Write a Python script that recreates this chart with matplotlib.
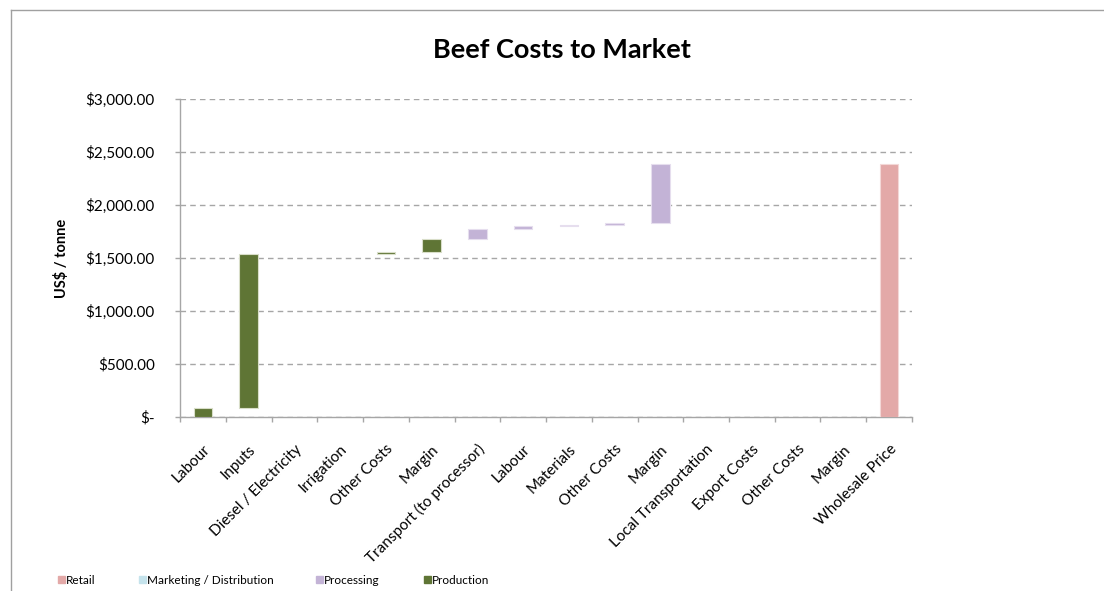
import matplotlib
matplotlib.use("Agg")
import matplotlib.pyplot as plt
from matplotlib.patches import Rectangle
from matplotlib.transforms import ScaledTranslation
import numpy as np

plt.rcParams['font.family'] = ['Lato', 'DejaVu Sans']

# Cost components along the chain (US$ / tonne); the last bar is the total
categories = ["Labour", "Inputs", "Diesel / Electricity", "Irrigation", "Other Costs",
              "Margin", "Transport (to processor)", "Labour", "Materials", "Other Costs",
              "Margin", "Local Transportation", "Export Costs", "Other Costs", "Margin",
              "Wholesale Price"]
step_values = [85, 1450, 0, 0, 22, 125, 90, 33, 9, 19, 557, 0, 0, 0, 0]
stages = ["Production"] * 6 + ["Processing"] * 5 + ["Marketing / Distribution"] * 4 + ["Retail"]

stage_colors = {
    "Retail": "#E3A9A8",
    "Marketing / Distribution": "#C5E3EC",
    "Processing": "#C3B3D6",
    "Production": "#5F7535",
}
legend_order = ["Retail", "Marketing / Distribution", "Processing", "Production"]
edge_colors = {
    "Retail": "#F3D8D7",
    "Marketing / Distribution": "#E6F3F7",
    "Processing": "#E6DEEE",
    "Production": "#D9DEC9",
}

cum = np.cumsum(step_values)
bottoms = list(np.concatenate([[0], cum[:-1]])) + [0]
heights = list(step_values) + [cum[-1]]

fig = plt.figure(figsize=(11.04, 5.91), dpi=100)
ax = fig.add_axes([180 / 1104, 1 - 417 / 591, (912 - 180) / 1104, (417 - 99) / 591])

x = np.arange(len(categories))
for xi, b, h, s in zip(x, bottoms, heights, stages):
    if h <= 0:
        continue
    ax.bar(xi, h, bottom=b, width=0.4, color=stage_colors[s],
           edgecolor=edge_colors[s], linewidth=0.8, zorder=3)

ax.set_xlim(-0.5, len(categories) - 0.5)
ax.set_ylim(0, 3000)

# y axis
yticks = np.arange(0, 3001, 500)
ax.set_yticks(yticks)
ax.set_yticklabels(["$-"] + [f"${v:,.2f}" for v in yticks[1:]], fontsize=11)
zero_lab = ax.get_yticklabels()[0]
zero_lab.set_transform(zero_lab.get_transform() + ScaledTranslation(-0.27, 0, fig.dpi_scale_trans))
ax.yaxis.grid(True, color="#A6A6A6", linestyle=(0, (4, 3)), linewidth=1, zorder=0)
ax.tick_params(axis="y", length=3.6, width=1, color="#A6A6A6", pad=14.5)
ax.set_ylabel("US$ / tonne", fontsize=10.5, fontweight="bold", labelpad=12)

# x axis: ticks at category boundaries, labels at centres
ax.set_xticks(np.arange(-0.5, len(categories), 1.0))
ax.set_xticklabels([])
ax.set_xticks(x, minor=True)
ax.set_xticklabels(categories, minor=True, rotation=45, ha="right", va="top",
                   rotation_mode="anchor", fontsize=11)
ax.tick_params(axis="x", which="major", length=3.6, width=1, color="#A6A6A6", direction="out")
ax.tick_params(axis="x", which="minor", length=0, pad=18)

for side in ["top", "right"]:
    ax.spines[side].set_visible(False)
ax.spines["left"].set_color("#A6A6A6")
ax.spines["bottom"].set_color("#A6A6A6")
ax.spines["left"].set_linewidth(1)
ax.spines["bottom"].set_linewidth(1)

fig.text(562 / 1104, 1 - 50 / 591, "Beef Costs to Market", ha="center", va="center",
         fontsize=19.5, fontweight="bold")

# legend along the bottom
legend_x = [58, 139, 316, 424]
for lx, name in zip(legend_x, legend_order):
    fig.patches.append(Rectangle((lx / 1104, 1 - 583 / 591), 7 / 1104, 7 / 591,
                                 transform=fig.transFigure, color=stage_colors[name]))
    fig.text((lx + 8) / 1104, 1 - 580 / 591, name, ha="left", va="center", fontsize=8.5)

# chart area frame
fig.add_artist(plt.Line2D([11 / 1104, 11 / 1104], [0, 1 - 10 / 591],
                          transform=fig.transFigure, color="#A0A0A0", linewidth=1))
fig.add_artist(plt.Line2D([11 / 1104, 1], [1 - 10 / 591, 1 - 10 / 591],
                          transform=fig.transFigure, color="#A0A0A0", linewidth=1))

fig.savefig("out.png", dpi=100)
